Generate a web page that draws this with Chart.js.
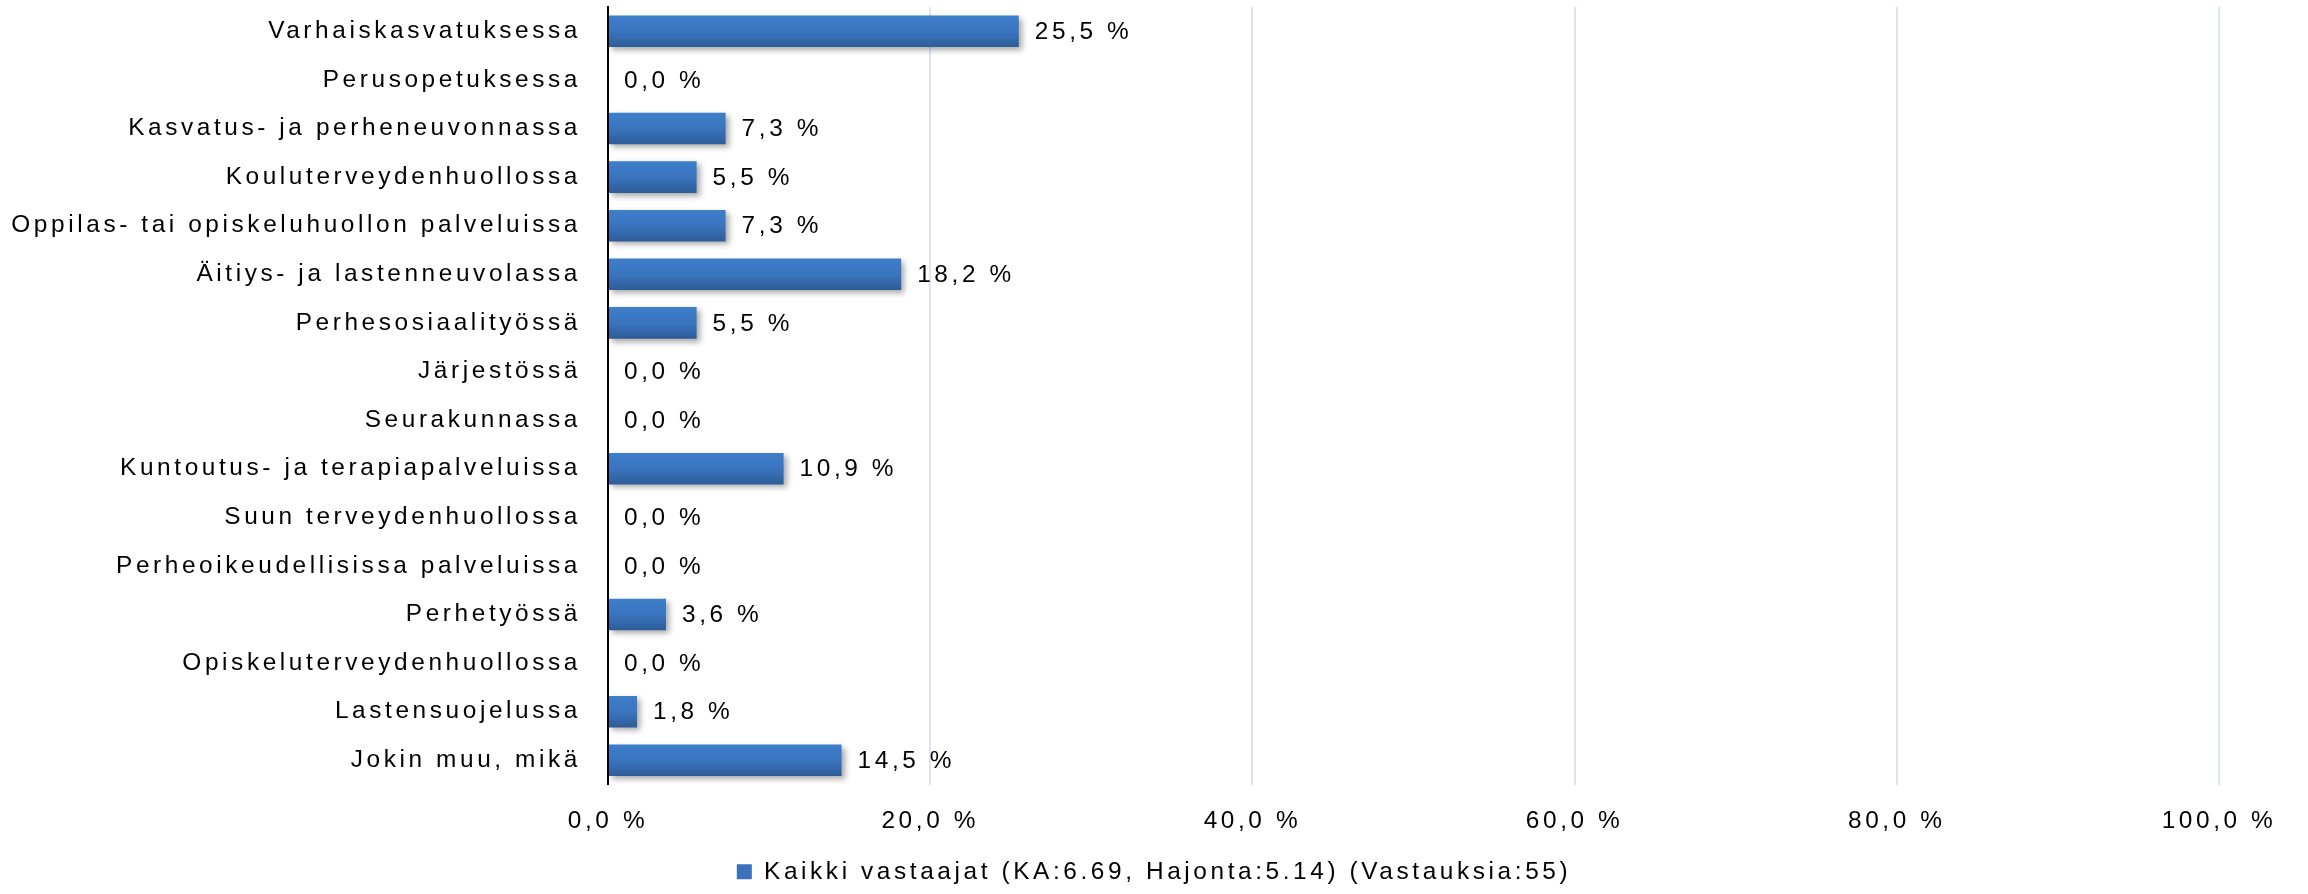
<!DOCTYPE html>
<html><head><meta charset="utf-8">
<script src="https://cdn.jsdelivr.net/npm/chart.js@4.4.1/dist/chart.umd.min.js"></script>
<style>html,body{margin:0;padding:0;background:#fff;} canvas{display:block;}</style>
</head><body>
<canvas id="c" width="2308" height="894"></canvas>
<script>
const categories = [
  'Varhaiskasvatuksessa',
  'Perusopetuksessa',
  'Kasvatus- ja perheneuvonnassa',
  'Kouluterveydenhuollossa',
  'Oppilas- tai opiskeluhuollon palveluissa',
  'Äitiys- ja lastenneuvolassa',
  'Perhesosiaalityössä',
  'Järjestössä',
  'Seurakunnassa',
  'Kuntoutus- ja terapiapalveluissa',
  'Suun terveydenhuollossa',
  'Perheoikeudellisissa palveluissa',
  'Perhetyössä',
  'Opiskeluterveydenhuollossa',
  'Lastensuojelussa',
  'Jokin muu, mikä'
];
const values = [25.5, 0.0, 7.3, 5.5, 7.3, 18.2, 5.5, 0.0, 0.0, 10.9, 0.0, 0.0, 3.6, 0.0, 1.8, 14.5];
const seriesLabel = 'Kaikki vastaajat (KA:6.69, Hajonta:5.14) (Vastauksia:55)';
const xTickValues = [0, 20, 40, 60, 80, 100];

const FONT = 'Liberation Sans, Arial, sans-serif';
const LS = '3.6px';
const FS = 24.4;
const fmt = v => Number(v).toFixed(1).replace('.', ',') + ' %';

const spacingPlugin = {
  id: 'spacing',
  beforeInit(c) { c.ctx.letterSpacing = LS; },
  beforeUpdate(c) { c.ctx.letterSpacing = LS; },
  beforeLayout(c) { c.ctx.letterSpacing = LS; },
  beforeDraw(c) { c.ctx.letterSpacing = LS; }
};

const shadowPlugin = {
  id: 'barShadow',
  beforeDatasetsDraw(c) {
    const ctx = c.ctx;
    ctx.save();
    ctx.shadowColor = 'rgba(0,0,0,0.35)';
    ctx.shadowBlur = 6;
    ctx.shadowOffsetX = 3;
    ctx.shadowOffsetY = 3;
  },
  afterDatasetsDraw(c) { c.ctx.restore(); }
};

const labelPlugin = {
  id: 'valueLabels',
  afterDraw(c) {
    const ctx = c.ctx;
    const meta = c.getDatasetMeta(0);
    ctx.save();
    ctx.letterSpacing = LS;
    ctx.font = FS + 'px ' + FONT;
    ctx.fillStyle = '#000';
    ctx.textAlign = 'left';
    ctx.textBaseline = 'middle';
    meta.data.forEach((el, i) => {
      ctx.fillText(fmt(values[i]), el.x + 16, el.y + 1);
    });
    ctx.restore();
  }
};

new Chart(document.getElementById('c'), {
  type: 'bar',
  data: {
    labels: categories,
    datasets: [{
      label: seriesLabel,
      data: values,
      backgroundColor: (ctx) => {
        const chart = ctx.chart;
        const y = chart.scales && chart.scales.y;
        if (!y || ctx.dataIndex === undefined || !chart.chartArea) return '#3a72bb';
        const cy = y.getPixelForValue(ctx.dataIndex);
        const g = chart.ctx.createLinearGradient(0, cy - 16, 0, cy + 16);
        g.addColorStop(0, '#3e7ecb');
        g.addColorStop(0.5, '#3a75bf');
        g.addColorStop(1, '#2d5b97');
        return g;
      },
      borderWidth: 0,
      barPercentage: 0.65,
      categoryPercentage: 1.0
    }]
  },
  options: {
    indexAxis: 'y',
    responsive: false,
    animation: false,
    layout: { padding: { top: 7, right: 0, left: 0, bottom: 0 } },
    scales: {
      x: {
        min: 0, max: 100,
        afterBuildTicks(s) { s.ticks = xTickValues.map(v => ({ value: v })); },
        afterFit(s) { s.height = 67; s.paddingLeft = 0; s.paddingRight = 89; },
        grid: { color: '#dce6f2', lineWidth: 2, drawTicks: false },
        border: { display: false },
        ticks: {
          padding: 22,
          color: '#000',
          font: { family: FONT, size: FS },
          callback: v => fmt(v)
        }
      },
      y: {
        afterFit(s) { s.width = 608; s.paddingTop = 0; s.paddingBottom = 0; },
        grid: { display: false, drawTicks: false },
        border: { display: true, color: '#000', width: 2 },
        ticks: {
          padding: 27,
          color: '#000',
          font: { family: FONT, size: FS }
        }
      }
    },
    plugins: {
      legend: {
        position: 'bottom',
        labels: {
          color: '#000',
          font: { family: FONT, size: FS },
          boxWidth: 15,
          boxHeight: 15,
          padding: 8,
          generateLabels(chart) {
            const items = Chart.defaults.plugins.legend.labels.generateLabels(chart);
            items.forEach(it => { it.fillStyle = '#3a72bb'; it.strokeStyle = '#3a72bb'; it.lineWidth = 0; });
            return items;
          }
        }
      },
      tooltip: { enabled: false }
    }
  },
  plugins: [spacingPlugin, shadowPlugin, labelPlugin]
});
</script>
</body></html>
